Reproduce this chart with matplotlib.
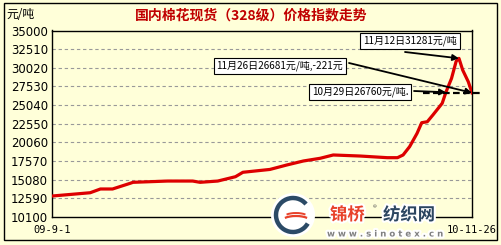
import matplotlib
matplotlib.use("Agg")
import matplotlib.pyplot as plt
import matplotlib.patheffects as pe
from matplotlib.patches import Rectangle, Circle, Arc
import pandas as pd

plt.rcParams["font.family"] = ["Noto Sans CJK SC", "DejaVu Sans"]

# price index (元/吨)
dates = ["2009-09-01", "2009-10-12", "2009-10-23", "2009-11-05", "2009-11-24",
         "2009-11-27", "2010-01-03", "2010-01-30", "2010-02-07", "2010-02-26",
         "2010-03-17", "2010-03-25", "2010-04-23", "2010-05-11", "2010-05-29",
         "2010-06-16", "2010-06-30", "2010-07-29", "2010-08-27", "2010-09-07",
         "2010-09-13", "2010-09-20", "2010-09-28", "2010-10-03", "2010-10-09",
         "2010-10-15", "2010-10-25", "2010-10-29", "2010-11-04", "2010-11-09",
         "2010-11-12", "2010-11-16", "2010-11-22", "2010-11-26"]
prices = [12900, 13340, 13840, 13840, 14600,
          14730, 14900, 14900, 14730, 14900,
          15480, 16070, 16450, 17040, 17580,
          17940, 18380, 18240, 18020, 18020,
          18380, 19490, 21270, 22690, 22820,
          23720, 25280, 26760, 28600, 30900,
          31281, 29720, 28160, 26681]

y_ticks = [10100, 12590, 15080, 17570, 20060, 22550, 25040, 27530, 30020, 32510, 35000]
x_ticks = ["2009-09-01", "2010-11-26"]
x_tick_labels = ["09-9-1", "10-11-26"]

title = "国内棉花现货（328级）价格指数走势"
notes = ["11月12日31281元/吨", "11月26日26681元/吨,-221元", "10月29日26760元/吨."]
note_dates = ["2010-11-12", "2010-11-26", "2010-10-29"]
note_values = [31281, 26681, 26760]

BG = "#FFFFD9"
W, H = 502, 245


def main():
    x = pd.to_datetime(dates)
    fig = plt.figure(figsize=(W / 100, H / 100), dpi=100, facecolor=BG)
    ax = fig.add_axes([52 / W, 1 - 217 / H, 420 / W, 186.5 / H], facecolor=BG)

    for v in y_ticks[1:-1]:
        ax.axhline(v, color="#999999", lw=0.8, ls=(0, (3, 2.5)), zorder=1)
    ax.plot(x, prices, color="#DD0000", lw=2.3, zorder=3, solid_joinstyle="round")

    ax.set_ylim(y_ticks[0], y_ticks[-1])
    ax.set_xlim(pd.Timestamp(x_ticks[0]), pd.Timestamp(x_ticks[-1]))
    ax.set_yticks(y_ticks)
    ax.set_yticklabels([str(v) for v in y_ticks], fontsize=8.5, family="DejaVu Sans")
    ax.set_xticks(pd.to_datetime(x_ticks))
    ax.set_xticklabels(x_tick_labels, fontsize=7.5, family="DejaVu Sans Mono")
    ax.tick_params(length=0, pad=3)
    ax.tick_params(axis="x", pad=6)
    for s in ax.spines.values():
        s.set_linewidth(1.0)

    # reference line at the latest price
    ax.axhline(note_values[1], xmin=0.883, xmax=1.02, color="black", lw=1.6,
               ls=(0, (3, 1.5)), clip_on=False, zorder=4)

    box = dict(boxstyle="square,pad=0.3", fc="white", ec="black", lw=0.8)
    text_pos = [(410, H - 41), (280, H - 66), (360, H - 92)]
    arrow_start = [(405, H - 52), (349, H - 63), (414, H - 91)]
    for note, d, v, tp, st in zip(notes, note_dates, note_values, text_pos, arrow_start):
        ax.annotate("", xy=(pd.Timestamp(d), v), xytext=st, textcoords="figure pixels",
                    arrowprops=dict(arrowstyle="-|>", color="black", lw=1.3,
                                    mutation_scale=9, shrinkA=0, shrinkB=0),
                    zorder=5, annotation_clip=False)
        fig.text(tp[0] / W, tp[1] / H, note, fontsize=7.2, ha="center", va="center",
                 bbox=box, zorder=6)

    fig.text(0.5, 1 - 15 / H, title, color="#C00000", fontsize=10, fontweight="bold",
             ha="center", va="center")
    fig.text(6 / W, 1 - 15 / H, "元/吨", fontsize=8.5, ha="left", va="center")

    # outer frame
    fig.patches.append(Rectangle((4 / W, 1 - 240 / H), 493 / W, 237 / H, fill=False,
                                 ec="black", lw=1.0, transform=fig.transFigure))

    # watermark
    halo = [pe.withStroke(linewidth=3, foreground="white")]
    cy = 1 - 215 / H
    fig.patches.append(Circle((293, H - 215), 22, fc="white", ec="none",
                              transform=None, zorder=7))
    fig.patches.append(Arc((293, H - 215), 34, 34, theta1=40, theta2=330, ec="#2B4A66",
                           lw=3.2, transform=None, zorder=8))
    fig.patches.append(Arc((296, H - 222), 30, 12, theta1=20, theta2=160, ec="#E8412A",
                           lw=1.6, transform=None, zorder=8))
    fig.patches.append(Arc((296, H - 218), 26, 10, theta1=20, theta2=160, ec="#E8412A",
                           lw=1.4, transform=None, zorder=8))
    fig.text(330 / W, cy, "锦桥", color="#E8412A", fontsize=12.5, fontweight="bold",
             ha="left", va="center", path_effects=halo, zorder=8)
    fig.text(373 / W, 1 - 208 / H, "®", color="#555555", fontsize=5.5,
             ha="left", va="center", zorder=8)
    fig.text(383 / W, cy, "纺织网", color="#2B4560", fontsize=12.5, fontweight="bold",
             ha="left", va="center", path_effects=halo, zorder=8)
    fig.text(327 / W, 1 - 234 / H, "w w w . s i n o t e x . c n", color="#808080",
             fontsize=6.2, fontweight="bold", family="DejaVu Sans", ha="left", va="center",
             path_effects=halo, zorder=8)

    fig.savefig("out.png", dpi=100, facecolor=BG)
    plt.close(fig)


if __name__ == "__main__":
    main()
